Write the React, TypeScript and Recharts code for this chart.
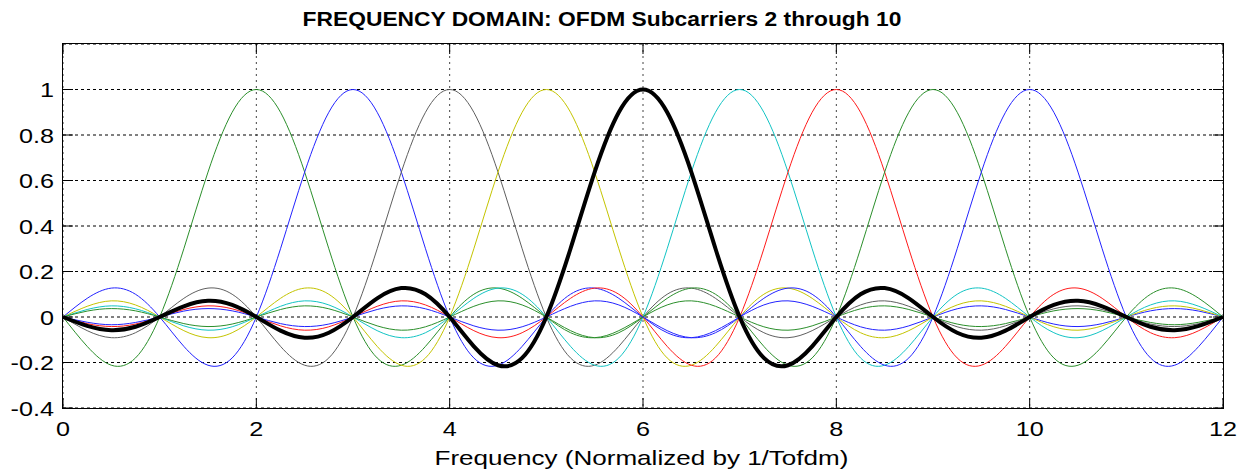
import { LineChart, Line, XAxis, YAxis, CartesianGrid } from "recharts"

// x positions (normalized frequency)
const frequencies = [
  0, 0.25, 0.5, 0.75, 1, 1.25, 1.5, 1.75, 2, 2.25, 2.5, 2.75, 3, 3.25, 3.5, 3.75,
  4, 4.25, 4.5, 4.75, 5, 5.25, 5.5, 5.75, 6, 6.25, 6.5, 6.75, 7, 7.25, 7.5, 7.75,
  8, 8.25, 8.5, 8.75, 9, 9.25, 9.5, 9.75, 10, 10.25, 10.5, 10.75, 11, 11.25, 11.5, 11.75, 12,
]

// one spectrum per subcarrier
const carrier2 = [
  0, -0.129, -0.212, -0.18, 0, 0.3, 0.637, 0.9, 1, 0.9, 0.637, 0.3, 0, -0.18, -0.212, -0.129,
  0, 0.1, 0.127, 0.082, 0, -0.069, -0.091, -0.06, 0, 0.053, 0.071, 0.047, 0, -0.043, -0.058, -0.039,
  0, 0.036, 0.049, 0.033, 0, -0.031, -0.042, -0.029, 0, 0.027, 0.037, 0.026, 0, -0.024, -0.034, -0.023, 0,
]
const carrier3 = [
  0, 0.082, 0.127, 0.1, 0, -0.129, -0.212, -0.18, 0, 0.3, 0.637, 0.9, 1, 0.9, 0.637, 0.3,
  0, -0.18, -0.212, -0.129, 0, 0.1, 0.127, 0.082, 0, -0.069, -0.091, -0.06, 0, 0.053, 0.071, 0.047,
  0, -0.043, -0.058, -0.039, 0, 0.036, 0.049, 0.033, 0, -0.031, -0.042, -0.029, 0, 0.027, 0.037, 0.026, 0,
]
const carrier4 = [
  0, -0.06, -0.091, -0.069, 0, 0.082, 0.127, 0.1, 0, -0.129, -0.212, -0.18, 0, 0.3, 0.637, 0.9,
  1, 0.9, 0.637, 0.3, 0, -0.18, -0.212, -0.129, 0, 0.1, 0.127, 0.082, 0, -0.069, -0.091, -0.06,
  0, 0.053, 0.071, 0.047, 0, -0.043, -0.058, -0.039, 0, 0.036, 0.049, 0.033, 0, -0.031, -0.042, -0.029, 0,
]
const carrier5 = [
  0, 0.047, 0.071, 0.053, 0, -0.06, -0.091, -0.069, 0, 0.082, 0.127, 0.1, 0, -0.129, -0.212, -0.18,
  0, 0.3, 0.637, 0.9, 1, 0.9, 0.637, 0.3, 0, -0.18, -0.212, -0.129, 0, 0.1, 0.127, 0.082,
  0, -0.069, -0.091, -0.06, 0, 0.053, 0.071, 0.047, 0, -0.043, -0.058, -0.039, 0, 0.036, 0.049, 0.033, 0,
]
const carrier6 = [
  0, -0.039, -0.058, -0.043, 0, 0.047, 0.071, 0.053, 0, -0.06, -0.091, -0.069, 0, 0.082, 0.127, 0.1,
  0, -0.129, -0.212, -0.18, 0, 0.3, 0.637, 0.9, 1, 0.9, 0.637, 0.3, 0, -0.18, -0.212, -0.129,
  0, 0.1, 0.127, 0.082, 0, -0.069, -0.091, -0.06, 0, 0.053, 0.071, 0.047, 0, -0.043, -0.058, -0.039, 0,
]
const carrier7 = [
  0, 0.033, 0.049, 0.036, 0, -0.039, -0.058, -0.043, 0, 0.047, 0.071, 0.053, 0, -0.06, -0.091, -0.069,
  0, 0.082, 0.127, 0.1, 0, -0.129, -0.212, -0.18, 0, 0.3, 0.637, 0.9, 1, 0.9, 0.637, 0.3,
  0, -0.18, -0.212, -0.129, 0, 0.1, 0.127, 0.082, 0, -0.069, -0.091, -0.06, 0, 0.053, 0.071, 0.047, 0,
]
const carrier8 = [
  0, -0.029, -0.042, -0.031, 0, 0.033, 0.049, 0.036, 0, -0.039, -0.058, -0.043, 0, 0.047, 0.071, 0.053,
  0, -0.06, -0.091, -0.069, 0, 0.082, 0.127, 0.1, 0, -0.129, -0.212, -0.18, 0, 0.3, 0.637, 0.9,
  1, 0.9, 0.637, 0.3, 0, -0.18, -0.212, -0.129, 0, 0.1, 0.127, 0.082, 0, -0.069, -0.091, -0.06, 0,
]
const carrier9 = [
  0, 0.026, 0.037, 0.027, 0, -0.029, -0.042, -0.031, 0, 0.033, 0.049, 0.036, 0, -0.039, -0.058, -0.043,
  0, 0.047, 0.071, 0.053, 0, -0.06, -0.091, -0.069, 0, 0.082, 0.127, 0.1, 0, -0.129, -0.212, -0.18,
  0, 0.3, 0.637, 0.9, 1, 0.9, 0.637, 0.3, 0, -0.18, -0.212, -0.129, 0, 0.1, 0.127, 0.082, 0,
]
const carrier10 = [
  0, -0.023, -0.034, -0.024, 0, 0.026, 0.037, 0.027, 0, -0.029, -0.042, -0.031, 0, 0.033, 0.049, 0.036,
  0, -0.039, -0.058, -0.043, 0, 0.047, 0.071, 0.053, 0, -0.06, -0.091, -0.069, 0, 0.082, 0.127, 0.1,
  0, -0.129, -0.212, -0.18, 0, 0.3, 0.637, 0.9, 1, 0.9, 0.637, 0.3, 0, -0.18, -0.212, -0.129, 0,
]

const xTicks = [0, 2, 4, 6, 8, 10, 12]
const yTicks = [-0.4, -0.2, 0, 0.2, 0.4, 0.6, 0.8, 1]

const series = [
  { key: "c2", values: carrier2, color: "#2b8f2b", width: 1 },
  { key: "c3", values: carrier3, color: "#2323ff", width: 1 },
  { key: "c4", values: carrier4, color: "#5f5f5f", width: 1 },
  { key: "c5", values: carrier5, color: "#c4c400", width: 1 },
  { key: "c7", values: carrier7, color: "#12c4c4", width: 1 },
  { key: "c8", values: carrier8, color: "#ff1a1a", width: 1 },
  { key: "c9", values: carrier9, color: "#2b8f2b", width: 1 },
  { key: "c10", values: carrier10, color: "#2323ff", width: 1 },
  { key: "c6", values: carrier6, color: "#000000", width: 4 },
]

const data = frequencies.map((x, i) => {
  const row: Record<string, number> = { x }
  series.forEach((s) => { row[s.key] = s.values[i] })
  return row
})

const FONT = "'Liberation Sans', Arial, sans-serif"
const TICK_LEN = 10
const STRETCH = 1.2
// plot box (matches the chart margins below)
const PLOT_LEFT = 63
const PLOT_TOP = 44
const PLOT_W = 1160
const PLOT_H = 364

// bottom tick: inward mark at bottom and top of the box + label
const BottomTick = ({ x, y, payload }: any) => (
  <g>
    <line x1={x} y1={y} x2={x} y2={y - TICK_LEN} stroke="#000" />
    <line x1={x} y1={y - PLOT_H} x2={x} y2={y - PLOT_H + TICK_LEN} stroke="#000" />
    <text
      transform={`translate(${x},${y + 28}) scale(${STRETCH},1)`}
      textAnchor="middle"
      fontSize={21}
      fontFamily={FONT}
      fill="#000"
    >
      {payload.value}
    </text>
  </g>
)

// left tick: inward mark at left and right of the box + label
const LeftTick = ({ x, y, payload }: any) => (
  <g>
    <line x1={x} y1={y} x2={x + TICK_LEN} y2={y} stroke="#000" />
    <line x1={x + PLOT_W} y1={y} x2={x + PLOT_W - TICK_LEN} y2={y} stroke="#000" />
    <text
      transform={`translate(${x - 9},${y + 7.5}) scale(${STRETCH},1)`}
      textAnchor="end"
      fontSize={21}
      fontFamily={FONT}
      fill="#000"
    >
      {payload.value}
    </text>
  </g>
)

export default function App() {
  return (
    <div style={{ position: "absolute", left: 0, top: 0, width: 1241, height: 471, background: "#fff" }}>

      {/* title */}
      <div
        style={{
          position: "absolute", left: 0, top: 9, width: 1204, textAlign: "center",
          fontFamily: FONT, fontWeight: "bold", fontSize: 20, lineHeight: "20px",
          transform: "scaleX(1.14)", whiteSpace: "nowrap", color: "#000",
        }}
      >
        FREQUENCY DOMAIN: OFDM Subcarriers 2 through 10
      </div>

      <LineChart width={1241} height={471} data={data} margin={{ top: 44, right: 18, bottom: 0, left: 0 }}>
        <CartesianGrid vertical={false} stroke="#000" strokeDasharray="3 3" />
        <CartesianGrid horizontal={false} stroke="#444" strokeDasharray="2 4" />
        <XAxis
          dataKey="x"
          type="number"
          domain={[0, 12]}
          ticks={xTicks}
          interval={0}
          height={63}
          tickSize={0}
          tickMargin={0}
          axisLine={false}
          tick={<BottomTick />}
        />
        <YAxis
          type="number"
          domain={[-0.4, 1.2]}
          ticks={yTicks}
          interval={0}
          width={63}
          tickSize={0}
          tickMargin={0}
          axisLine={false}
          tick={<LeftTick />}
        />
        {series.map((s) => (
          <Line
            key={s.key}
            dataKey={s.key}
            type="natural"
            stroke={s.color}
            strokeWidth={s.width}
            dot={false}
            isAnimationActive={false}
          />
        ))}
      </LineChart>

      {/* axes box */}
      <div
        style={{
          position: "absolute", left: PLOT_LEFT - 1, top: PLOT_TOP - 1,
          width: PLOT_W, height: PLOT_H, border: "1px solid #000", pointerEvents: "none",
        }}
      />

      {/* x axis label */}
      <div
        style={{
          position: "absolute", left: 0, top: 447, width: 1283, textAlign: "center",
          fontFamily: FONT, fontSize: 21, lineHeight: "21px",
          transform: "scaleX(1.24)", whiteSpace: "nowrap", color: "#000",
        }}
      >
        Frequency (Normalized by 1/Tofdm)
      </div>
    </div>
  )
}
